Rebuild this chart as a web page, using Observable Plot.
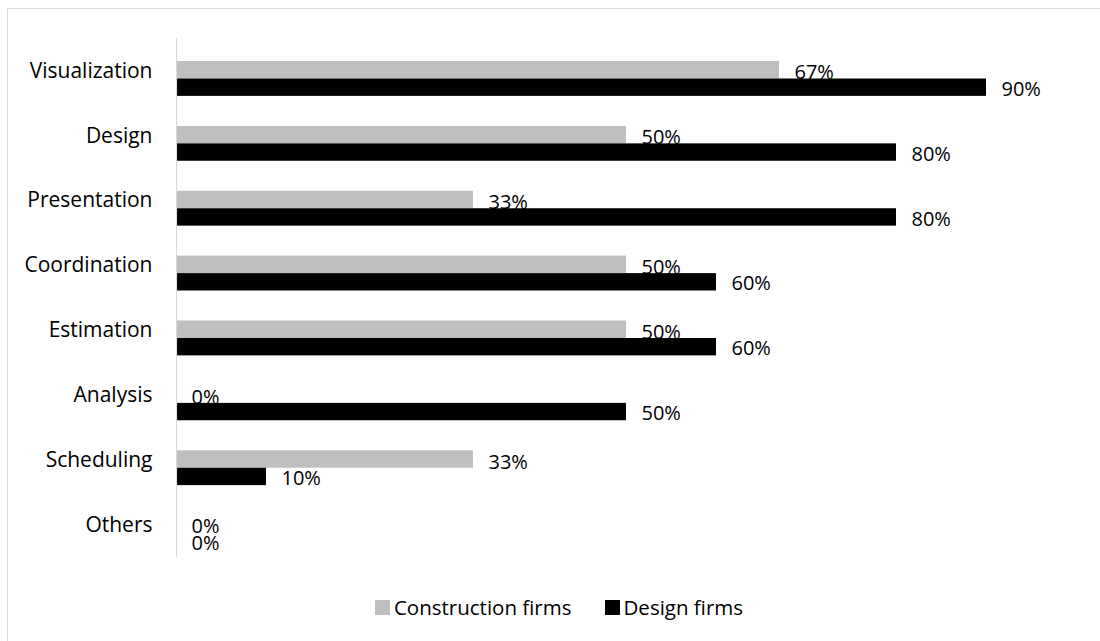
<!DOCTYPE html>
<html><head><meta charset="utf-8">
<script src="https://cdn.jsdelivr.net/npm/d3@7"></script>
<script src="https://cdn.jsdelivr.net/npm/@observablehq/plot@0.6"></script>
<style>
body{margin:0;background:#fff;overflow:hidden;font-family:"Open Sans",sans-serif;color:#000;}
#wrap{position:relative;width:1100px;height:641px;overflow:hidden;}
#frame{position:absolute;left:7px;top:8px;width:1300px;height:900px;border:1px solid #d9d9d9;box-sizing:border-box;pointer-events:none;}
#chart{position:absolute;left:0;top:0;}
#legend{position:absolute;left:9px;top:594px;width:1100px;display:flex;justify-content:center;align-items:center;font-size:20.5px;line-height:27px;}
.item{display:flex;align-items:center;}
.sw{width:15px;height:15px;margin-right:4px;}
</style></head><body>
<div id="wrap"><div id="frame"></div><div id="chart"></div><div id="legend"></div></div>
<script>
const categories = ["Visualization","Design","Presentation","Coordination","Estimation","Analysis","Scheduling","Others"];
const seriesNames = ["Construction firms","Design firms"];
const construction = [67,50,33,50,50,0,33,0];
const design = [90,80,80,60,60,50,10,0];
const colors = ["#bfbfbf","#000000"];

const cData = categories.map((c,i)=>({category:c, value:construction[i]}));
const dData = categories.map((c,i)=>({category:c, value:design[i]}));

const H = 590;
const plot = Plot.plot({
  width:1100, height:H,
  marginLeft:176, marginRight:24, marginTop:38, marginBottom:H-557,
  style:{fontFamily:"'Open Sans', sans-serif", color:"#000", background:"transparent"},
  x:{domain:[0,100], axis:null},
  y:{domain:categories, padding:0, round:false, axis:null},
  marks:[
    Plot.axisY({tickSize:0, tickPadding:24, fontSize:21, label:null}),
    Plot.barX(cData, {x:"value", y:"category", fill:colors[0], insetTop:23, insetBottom:24.4}),
    Plot.barX(dData, {x:"value", y:"category", fill:colors[1], insetTop:40.5, insetBottom:7}),
    Plot.ruleX([0], {stroke:"#d9d9d9", strokeWidth:1.2}),
    Plot.text(cData, {x:"value", y:"category", text:d=>d.value+"%", dx:15, dy:2, textAnchor:"start", fontSize:20, fill:"#000"}),
    Plot.text(dData, {x:"value", y:"category", text:d=>d.value+"%", dx:15, dy:18.5, textAnchor:"start", fontSize:20, fill:"#000"})
  ]
});
document.getElementById("chart").appendChild(plot);

const legend = document.getElementById("legend");
seriesNames.forEach((s,i)=>{
  const it = document.createElement("div");
  it.className="item";
  if(i>0) it.style.marginLeft="33px";
  const sw = document.createElement("div");
  sw.className="sw"; sw.style.background=colors[i];
  const t = document.createElement("span"); t.textContent=s;
  it.appendChild(sw); it.appendChild(t);
  legend.appendChild(it);
});
</script>
</body></html>
